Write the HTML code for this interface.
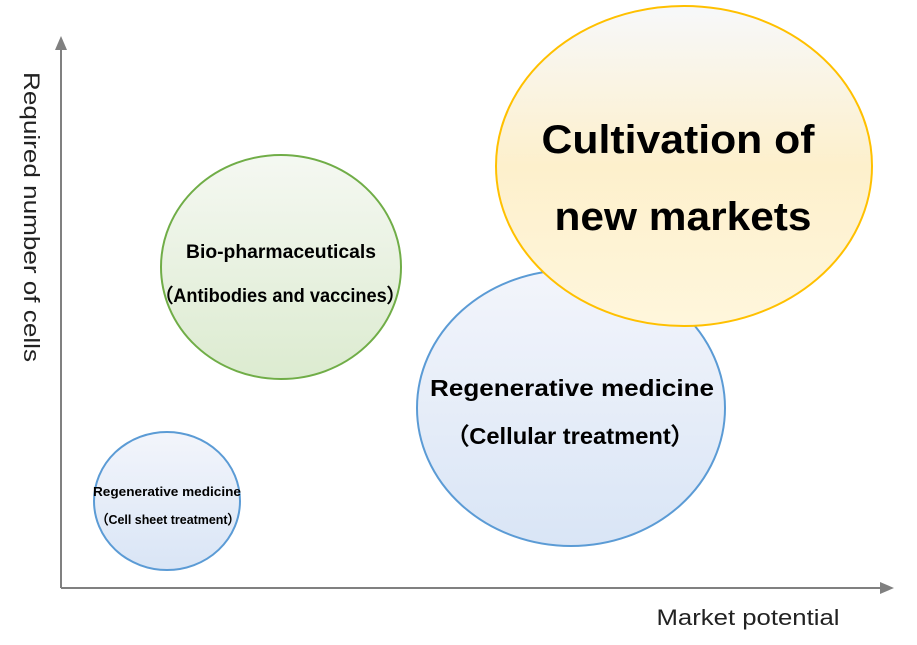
<!DOCTYPE html>
<html><head><style>body{margin:0;background:#fff}</style></head><body>
<svg width="917" height="640" viewBox="0 0 917 640" xmlns="http://www.w3.org/2000/svg" font-family="Liberation Sans, sans-serif">
<defs>
<linearGradient id="y" x1="0" y1="0" x2="0" y2="1"><stop offset="0" stop-color="#f7f8fa"/><stop offset="0.5" stop-color="#fdf0cc"/><stop offset="1" stop-color="#fff6dc"/></linearGradient>
<linearGradient id="b" x1="0" y1="0" x2="0" y2="1"><stop offset="0" stop-color="#f3f5fb"/><stop offset="1" stop-color="#d9e5f6"/></linearGradient>
<linearGradient id="g" x1="0" y1="0" x2="0" y2="1"><stop offset="0" stop-color="#f5f8f2"/><stop offset="1" stop-color="#dcebd0"/></linearGradient>
</defs>
<line x1="61" y1="588" x2="61" y2="46" stroke="#808080" stroke-width="2"/>
<polygon points="61,36 55,50 67,50" fill="#808080"/>
<line x1="61" y1="588" x2="884" y2="588" stroke="#808080" stroke-width="2"/>
<polygon points="894,588 880,582 880,594" fill="#808080"/>
<text transform="translate(24,217) rotate(90)" font-size="22" text-anchor="middle" fill="#222" textLength="290" lengthAdjust="spacingAndGlyphs">Required number of cells</text>
<text x="748" y="625" font-size="22" text-anchor="middle" fill="#222" textLength="183" lengthAdjust="spacingAndGlyphs">Market potential</text>
<ellipse cx="281" cy="267" rx="120" ry="112" fill="url(#g)" stroke="#70ad47" stroke-width="2"/>
<text x="281" y="258" font-size="19" font-weight="bold" text-anchor="middle" textLength="190" lengthAdjust="spacingAndGlyphs">Bio-pharmaceuticals</text>
<text x="280" y="302" font-size="19" font-weight="bold" text-anchor="middle" textLength="250" lengthAdjust="spacingAndGlyphs">（Antibodies and vaccines）</text>
<ellipse cx="167" cy="501" rx="73" ry="69" fill="url(#b)" stroke="#5b9bd5" stroke-width="2"/>
<text x="167" y="496" font-size="13" font-weight="bold" text-anchor="middle" textLength="148" lengthAdjust="spacingAndGlyphs">Regenerative medicine</text>
<text x="168" y="524" font-size="13" font-weight="bold" text-anchor="middle" textLength="144" lengthAdjust="spacingAndGlyphs">（Cell sheet treatment）</text>
<ellipse cx="571" cy="408" rx="154" ry="138" fill="url(#b)" stroke="#5b9bd5" stroke-width="2"/>
<text x="572" y="396" font-size="23" font-weight="bold" text-anchor="middle" textLength="284" lengthAdjust="spacingAndGlyphs">Regenerative medicine</text>
<text x="570" y="444" font-size="23" font-weight="bold" text-anchor="middle" textLength="249" lengthAdjust="spacingAndGlyphs">（Cellular treatment）</text>
<ellipse cx="684" cy="166" rx="188" ry="160" fill="url(#y)" stroke="#ffc000" stroke-width="2"/>
<text x="678" y="153" font-size="40" font-weight="bold" text-anchor="middle" textLength="273" lengthAdjust="spacingAndGlyphs">Cultivation of</text>
<text x="683" y="230" font-size="40" font-weight="bold" text-anchor="middle" textLength="257" lengthAdjust="spacingAndGlyphs">new markets</text>
</svg>
</body></html>
